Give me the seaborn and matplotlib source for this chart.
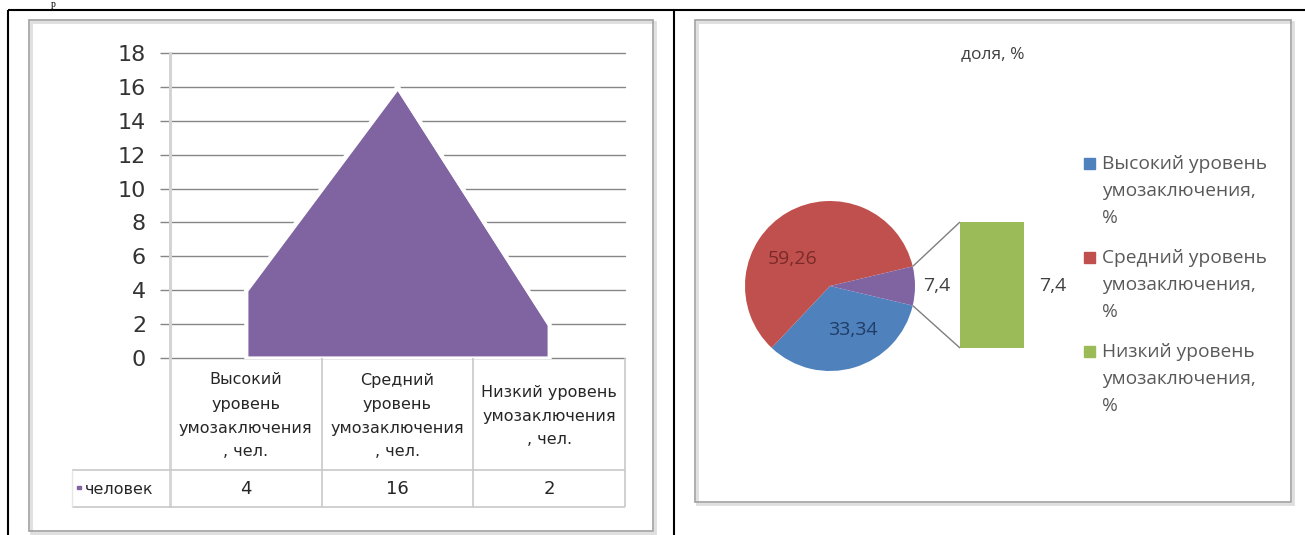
import numpy as np
import pandas as pd
import matplotlib
matplotlib.use("Agg")
import matplotlib.pyplot as plt
import matplotlib.font_manager as fm
from matplotlib.patches import Rectangle
import seaborn as sns

# ---------------- data ----------------
categories = ["Высокий\nуровень\nумозаключения\n, чел.",
              "Средний\nуровень\nумозаключения\n, чел.",
              "Низкий уровень\nумозаключения\n, чел."]
people = [4, 16, 2]
series_name = "человек"
y_ticks = [0, 2, 4, 6, 8, 10, 12, 14, 16, 18]

pie_title = "доля, %"
share_labels = ["Высокий уровень\nумозаключения,\n%",
                "Средний уровень\nумозаключения,\n%",
                "Низкий уровень\nумозаключения,\n%"]
share_values = [33.34, 59.26, 7.4]
bar_values = [7.4]

# ---------------- style ----------------
sns.set_theme(style="white")
names = {f.name for f in fm.fontManager.ttflist}
NARROW = "Liberation Sans Narrow" if "Liberation Sans Narrow" in names else "DejaVu Sans"
NARROW_LIST = [NARROW, "DejaVu Sans"]
SANS_LIST = ["Open Sans", "DejaVu Sans"]
plt.rcParams["font.family"] = ["DejaVu Sans"]

PURPLE = "#8064A2"
BLUE = "#4F81BD"
RED = "#C0504D"
GREEN = "#9BBB59"

W, H = 1305, 535


def fa(l, t, r, b):
    return [l / W, 1 - b / H, (r - l) / W, (b - t) / H]


fig = plt.figure(figsize=(W / 100, H / 100), dpi=100)
fig.patch.set_facecolor("white")

# ---------------- left: area chart ----------------
AL, AT, AR, AB = 170, 53, 625, 358
ax = fig.add_axes(fa(AL, AT, AR, AB))
df = pd.DataFrame({"pos": np.arange(len(people)), "people": people})
ax.fill_between(df["pos"], df["people"], color=PURPLE, edgecolor="white",
                linewidth=3, zorder=3)
sns.lineplot(data=df, x="pos", y="people", color="white", lw=3, ax=ax, zorder=4)
ax.set_xlim(-0.5, len(people) - 0.5)
ax.set_ylim(0, max(y_ticks))
ax.set_yticks(y_ticks)
ax.set_yticklabels([str(v) for v in y_ticks], family=NARROW_LIST,
                   fontsize=16, color="#333333")
ax.set_xticks([])
ax.set_xlabel("")
ax.set_ylabel("")
ax.yaxis.grid(True, color="#868686", lw=1)
ax.set_axisbelow(True)
for gl in ax.get_ygridlines():
    gl.set_clip_on(False)
ax.tick_params(axis="y", left=True, length=7.2, width=1, color="#868686", pad=10)
for s in ["top", "right", "bottom"]:
    ax.spines[s].set_visible(False)
ax.spines["left"].set_color("#d4d4d4")
ax.spines["left"].set_linewidth(2)
ax.patch.set_alpha(0)

# ---------------- right: pie of bar ----------------
PCX, PCY, PR = 830, 286, 85
axp = fig.add_axes(fa(PCX - PR, PCY - PR, PCX + PR, PCY + PR))
half = share_values[2] * 3.6 / 2
axp.pie(share_values, colors=[BLUE, RED, PURPLE], startangle=-half,
        counterclock=False, wedgeprops=dict(linewidth=0))
axp.set_xlim(-1, 1)
axp.set_ylim(-1, 1)
axp.set_aspect("equal")
axp.axis("off")

BL, BT, BR, BB = 960, 222, 1024, 348
axb = fig.add_axes(fa(BL, BT, BR, BB))
sns.barplot(x=["low"], y=bar_values, width=1, color=GREEN, saturation=1,
            ax=axb, linewidth=0)
axb.set_xlim(-0.5, 0.5)
axb.set_ylim(0, bar_values[0])
axb.axis("off")

# ---------------- overlay (layout, table, frames, texts) ----------------
ov = fig.add_axes([0, 0, 1, 1], zorder=10)
ov.set_xlim(0, W)
ov.set_ylim(H, 0)
ov.axis("off")


def line(x0, y0, x1, y1, c, lw):
    ov.plot([x0, x1], [y0, y1], color=c, lw=lw, solid_capstyle="butt")


# document table borders
line(8, 10, W, 10, "black", 1.5)
line(8, 10, 8, H, "black", 1.5)
line(674, 10, 674, H, "black", 1.5)
ov.text(53, 9, "р", family=["Liberation Serif", "DejaVu Serif"], fontsize=7,
        ha="center", va="bottom", color="black")

# chart frames with soft shadow
for (l, t, r, b) in [(29, 20, 653, 531), (695, 20, 1291, 502)]:
    ov.add_patch(Rectangle((l + 2, t + 2), r - l, b - t, fill=False,
                           edgecolor="#dedede", lw=2))
    ov.add_patch(Rectangle((l, t), r - l, b - t, fill=False,
                           edgecolor="#a0a0a0", lw=1.2))

# data table under the area chart
ncol = len(categories)
colw = (AR - AL) / ncol
edges = [AL + i * colw for i in range(ncol + 1)]
TG = "#c8c8c8"
ROW1, ROW2 = 470, 507
for x in edges[1:]:
    line(x, AB, x, ROW2, TG, 1.2)
line(AL, AT, AL, ROW2, "#d4d4d4", 2)
line(72, ROW1, AR, ROW1, TG, 1.2)
line(72, ROW2, AR, ROW2, TG, 1.2)
line(72, ROW1, 72, ROW2, "#e6e6e6", 1.0)
for i, cat in enumerate(categories):
    cx = (edges[i] + edges[i + 1]) / 2
    ov.text(cx, (AB + ROW1) / 2 + 2, cat, ha="center", va="center",
            family=NARROW_LIST, fontsize=11.5, color="#262626",
            linespacing=1.75)
    ov.text(cx, (ROW1 + ROW2) / 2 + 1, str(people[i]), ha="center",
            va="center", family=NARROW_LIST, fontsize=13, color="#262626")
ov.add_patch(Rectangle((77, 486), 4, 3, color=PURPLE))
ov.text(85, (ROW1 + ROW2) / 2 + 1, series_name, ha="left", va="center",
        family=NARROW_LIST, fontsize=11.5, color="#262626")

# pie title
ov.text(993, 54, pie_title, ha="center", va="center", family=SANS_LIST,
        fontsize=12.5, color="#404040")


def fmt(v):
    return ("%g" % v).replace(".", ",")


# pie data labels
ov.text(793, 259, fmt(share_values[1]), ha="center", va="center",
        family=SANS_LIST, fontsize=14, color="#7a2a28")
ov.text(853, 330, fmt(share_values[0]), ha="center", va="center",
        family=SANS_LIST, fontsize=14, color="#1f3d66")
ov.text(937, 286, fmt(share_values[2]), ha="center", va="center",
        family=SANS_LIST, fontsize=14, color="#404040")
ov.text(1053, 286, fmt(bar_values[0]), ha="center", va="center",
        family=SANS_LIST, fontsize=14, color="#404040")

# connector lines from the "other" slice to the bar
th = np.radians(half)
px = PCX + PR * np.cos(th)
line(px, PCY - PR * np.sin(th), BL, BT, "#7f7f7f", 1.0)
line(px, PCY + PR * np.sin(th), BL, BB, "#7f7f7f", 1.0)

# legend
leg_colors = [BLUE, RED, GREEN]
leg_tops = [164, 258, 352]
for lab, c, y0 in zip(share_labels, leg_colors, leg_tops):
    ov.add_patch(Rectangle((1084, y0 - 6), 11, 11, color=c))
    for k, ln in enumerate(lab.split("\n")):
        ov.text(1102, y0 + k * 27, ln, ha="left", va="center",
                family=SANS_LIST, fontsize=13.8, color="#595959")

fig.savefig("out.png", dpi=100)
